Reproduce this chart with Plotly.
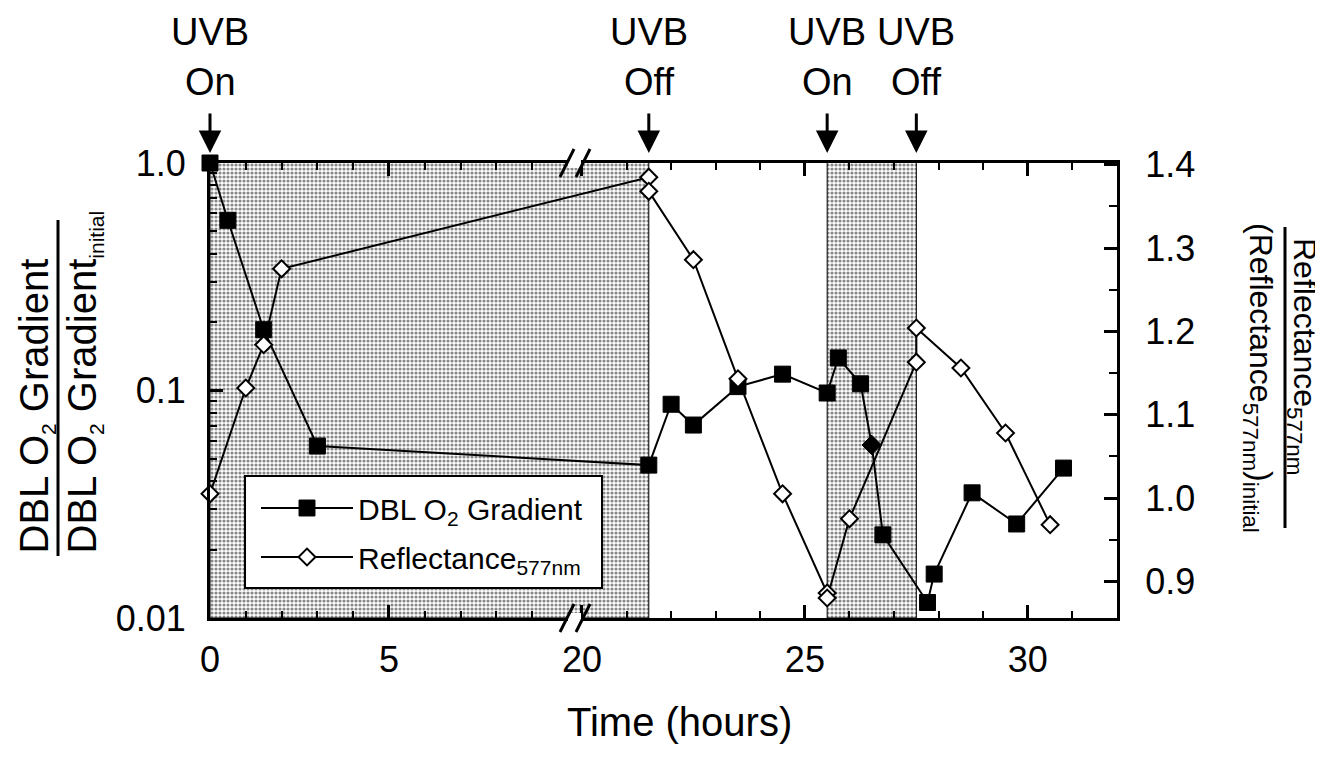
import plotly.graph_objects as go

# ---------------- data ----------------
dbl_time = [0, 0.5, 1.5, 3.0, 21.5, 22.0, 22.5, 23.5, 24.5, 25.5, 25.75, 26.25,
            26.5, 26.75, 27.75, 27.9, 28.75, 29.75, 30.8]
dbl_val = [1.0, 0.56, 0.185, 0.057, 0.047, 0.087, 0.0705, 0.104, 0.118, 0.0975,
           0.139, 0.107, 0.0576, 0.0232, 0.0117, 0.0156, 0.0355, 0.0259, 0.0456]

refl_time = [0, 1.0, 1.5, 2.0, 21.5, 21.5, 22.5, 23.5, 24.5, 25.5, 25.5, 26.0,
             27.5, 27.5, 28.5, 29.5, 30.5]
refl_val = [1.005, 1.132, 1.184, 1.275, 1.385, 1.368, 1.286, 1.143, 1.005, 0.886,
            0.880, 0.975, 1.163, 1.204, 1.156, 1.078, 0.968]

uv_on = [0, 25.5]
uv_off = [21.5, 27.5]
uv_events = [0, 21.5, 25.5, 27.5]
uv_labels = ["On", "Off", "On", "Off"]

x_major = [0, 5, 20, 25, 30]
x_minor = [1, 2, 3, 4, 6, 7, 8, 9, 21, 22, 23, 24, 26, 27, 28, 29, 31]
y_left_major = [0.01, 0.1, 1.0]
y_left_labels = ["0.01", "0.1", "1.0"]
y_right_major = [0.9, 1.0, 1.1, 1.2, 1.3, 1.4]
y_right_labels = ["0.9", "1.0", "1.1", "1.2", "1.3", "1.4"]

# ---------------- broken time axis ----------------
LEFT_SCALE = 35.8      # axis units per hour, 0-10 h segment
RIGHT_SCALE = 44.6     # axis units per hour, 20-32 h segment
RIGHT_ORIGIN = 372.0   # axis position of t = 20 h


def tx(t):
    if t < 15:
        return t * LEFT_SCALE
    return RIGHT_ORIGIN + (t - 20) * RIGHT_SCALE


X_RANGE = [0, tx(32.0)]

# page geometry (page pixels); the figure div sits 8 px in from the page corner
OFF = 8
FW, FH = 1323 - OFF, 757 - OFF
PL, PR, PT, PB = 210, 1117, 163, 618


def px(xp):
    return (xp - PL) / (PR - PL)


def py(yp):
    return (PB - yp) / (PB - PT)


FONT = "Liberation Sans, Arial, Helvetica, sans-serif"

fig = go.Figure()

# shaded UVB periods (stippled)
fig.add_trace(go.Bar(
    x=[(tx(a) + tx(b)) / 2 for a, b in zip(uv_on, uv_off)],
    width=[tx(b) - tx(a) for a, b in zip(uv_on, uv_off)],
    y=[1.0, 1.0], base=[0.01, 0.01],
    marker=dict(color="white",
                line=dict(color="black", width=1),
                pattern=dict(shape=".", fgcolor="#111111", bgcolor="white",
                             size=4, solidity=0.5)),
    showlegend=False, hoverinfo="skip", xaxis="x", yaxis="y",
))

dbl_symbols = ["square"] * len(dbl_val)
dbl_symbols[12] = "diamond"
dbl_sizes = [16] * len(dbl_val)
dbl_sizes[12] = 15

fig.add_trace(go.Scatter(
    x=[tx(t) for t in dbl_time], y=dbl_val,
    mode="lines+markers", name="DBL O<sub>2</sub> Gradient",
    legendgroup="a",
    line=dict(color="black", width=2),
    marker=dict(symbol=dbl_symbols, size=dbl_sizes, color="black", opacity=1,
                line=dict(color="black", width=1)),
    cliponaxis=False, xaxis="x", yaxis="y",
))

fig.add_trace(go.Scatter(
    x=[tx(t) for t in refl_time], y=refl_val,
    mode="lines+markers", name="Reflectance<sub>577nm</sub>",
    legendgroup="b",
    line=dict(color="black", width=2),
    marker=dict(symbol="diamond", size=13, color="white", opacity=1,
                line=dict(color="black", width=2)),
    cliponaxis=False, xaxis="x", yaxis="y2",
))

axis_common = dict(showline=True, linecolor="black", linewidth=3,
                   ticks="inside", tickcolor="black", tickwidth=3, ticklen=13,
                   showgrid=False, zeroline=False,
                   tickfont=dict(family=FONT, size=36, color="black"))

fig.update_layout(
    width=FW, height=FH,
    margin=dict(l=PL - OFF, r=FW - (PR - OFF), t=PT - OFF, b=FH - (PB - OFF), pad=0),
    paper_bgcolor="white", plot_bgcolor="white",
    font=dict(family=FONT, color="black"),
    barmode="overlay",
    xaxis=dict(range=X_RANGE, tickmode="array",
               tickvals=[tx(t) for t in x_major],
               ticktext=[str(t) for t in x_major],
               mirror="ticks", ticklabelstandoff=8,
               minor=dict(tickmode="array", tickvals=[tx(t) for t in x_minor],
                          ticks="inside", ticklen=7, tickwidth=2,
                          tickcolor="black"),
               **axis_common),
    yaxis=dict(type="log", range=[-2, 0], side="left", tickmode="array",
               tickvals=y_left_major, ticktext=y_left_labels,
               ticklabelstandoff=14,
               minor=dict(tickmode="array",
                          tickvals=[m * 10 ** e for e in (-2, -1) for m in range(2, 10)],
                          ticks="inside", ticklen=7, tickwidth=2,
                          tickcolor="black"),
               **axis_common),
    yaxis2=dict(overlaying="y", side="right", range=[0.856, 1.402],
                tickmode="array", tickvals=y_right_major,
                ticktext=y_right_labels, ticklabelstandoff=18,
                minor=dict(dtick=0.05, tick0=0.85, ticks="inside", ticklen=8,
                           tickwidth=2, tickcolor="black"),
                **axis_common),
    legend=dict(x=px(256), y=py(482), xanchor="left", yanchor="top",
                bgcolor="rgba(0,0,0,0)", borderwidth=0,
                traceorder="grouped", tracegroupgap=7,
                font=dict(family=FONT, size=30, color="black"),
                itemwidth=92),
)

annotations = []
# UVB event labels and arrows
for t, lab in zip(uv_events, uv_labels):
    annotations.append(dict(x=tx(t), y=py(OFF + 1), xref="x", yref="paper",
                            text="UVB", showarrow=False,
                            font=dict(family=FONT, size=38, color="black"),
                            xanchor="center", yanchor="top"))
    annotations.append(dict(x=tx(t), y=py(82), xref="x", yref="paper",
                            text=lab, showarrow=False,
                            font=dict(family=FONT, size=38, color="black"),
                            xanchor="center", yanchor="middle"))
    annotations.append(dict(x=tx(t), y=py(153), xref="x", yref="paper",
                            text="", showarrow=True, ax=0, ay=-41,
                            arrowhead=2, arrowwidth=3, arrowsize=1.5,
                            arrowcolor="black"))

# x-axis title
annotations.append(dict(x=px(679), y=py(722), xref="paper", yref="paper",
                        text="Time (hours)", showarrow=False,
                        font=dict(family=FONT, size=40, color="black"),
                        xanchor="center", yanchor="middle"))

# left axis title (fraction)
SUB_SMALL = '<sub><span style="font-size:21px">%s</span></sub>'
annotations.append(dict(x=px(OFF + 1), y=py(556), xref="paper", yref="paper",
                        text="DBL O" + SUB_SMALL % "2" + " Gradient",
                        textangle=-90, showarrow=False,
                        font=dict(family=FONT, size=40, color="black"),
                        xanchor="left", yanchor="bottom"))
annotations.append(dict(x=px(83), y=py(556), xref="paper", yref="paper",
                        text="DBL O" + SUB_SMALL % "2" + " Gradient" + SUB_SMALL % "initial",
                        textangle=-90, showarrow=False,
                        font=dict(family=FONT, size=40, color="black"),
                        xanchor="center", yanchor="bottom"))

# right axis title (fraction)
annotations.append(dict(x=px(1303), y=py(356), xref="paper", yref="paper",
                        text="Reflectance<sub>577nm</sub>", textangle=90,
                        showarrow=False,
                        font=dict(family=FONT, size=32, color="black"),
                        xanchor="center", yanchor="middle"))
annotations.append(dict(x=px(1259), y=py(378), xref="paper", yref="paper",
                        text="(Reflectance<sub>577nm</sub>)<sub>initial</sub>",
                        textangle=90, showarrow=False,
                        font=dict(family=FONT, size=32, color="black"),
                        xanchor="center", yanchor="middle"))

shapes = []
# legend frame
shapes.append(dict(type="rect", xref="paper", yref="paper", layer="above",
                   x0=px(245), x1=px(602), y0=py(588), y1=py(476),
                   fillcolor="white", line=dict(color="black", width=2)))
# fraction bars
shapes.append(dict(type="line", xref="paper", yref="paper",
                   x0=px(58), x1=px(58), y0=py(220), y1=py(556),
                   line=dict(color="black", width=3)))
shapes.append(dict(type="line", xref="paper", yref="paper",
                   x0=px(1285), x1=px(1285), y0=py(227), y1=py(528),
                   line=dict(color="black", width=3)))

# axis-break marks on bottom and top axes
for yc in (PB, PT):
    shapes.append(dict(type="rect", xref="paper", yref="paper", layer="above",
                       x0=px(568), x1=px(581), y0=py(yc + 5), y1=py(yc - 5),
                       fillcolor="white", line=dict(width=0)))
    for xc in (567, 583):
        shapes.append(dict(type="line", xref="paper", yref="paper", layer="above",
                           x0=px(xc - 7), y0=py(yc + 14), x1=px(xc + 7), y1=py(yc - 14),
                           line=dict(color="black", width=3)))

fig.update_layout(annotations=annotations, shapes=shapes)

fig.write_html("out.html")
